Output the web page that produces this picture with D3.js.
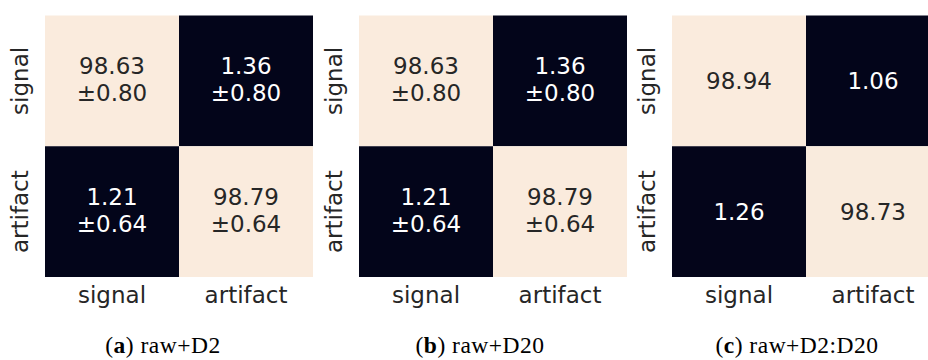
<!DOCTYPE html>
<html>
<head>
<meta charset="utf-8">
<script src="https://cdn.jsdelivr.net/npm/d3@7"></script>
<style>
  html, body { margin: 0; padding: 0; background: #ffffff; }
  svg { display: block; }
</style>
</head>
<body>
<svg id="chart" width="928" height="360"></svg>
<script>
// Class labels shared by all three confusion matrices (rows = true, columns = predicted)
const classes = ["signal", "artifact"];

// Mean classification rates (%) per panel
const meansD2 = [[98.63, 1.36], [1.21, 98.79]];
const meansD20 = [[98.63, 1.36], [1.21, 98.79]];
const meansD2D20 = [[98.94, 1.06], [1.26, 98.73]];

// Standard deviations (%) per panel; null when the panel reports means only
const stdD2 = [[0.80, 0.80], [0.64, 0.64]];
const stdD20 = [[0.80, 0.80], [0.64, 0.64]];
const stdD2D20 = null;

// Sub-figure captions
const captionLetters = ["a", "b", "c"];
const captionTexts = ["raw+D2", "raw+D20", "raw+D2:D20"];

const panels = [
  { means: meansD2, std: stdD2, x0: 45, capX: 163 },
  { means: meansD20, std: stdD20, x0: 359, capX: 480 },
  { means: meansD2D20, std: stdD2D20, x0: 672, capX: 797 }
];

const svg = d3.select("#chart");
const cellW = 134, gridTop = 15.5, gridBottom = 277;
const font = "'DejaVu Sans', sans-serif";
const fontSize = 23;

panels.forEach((p, pi) => {
  const allVals = p.means.flat();
  const color = d3.scaleLinear()
    .domain([d3.min(allVals), d3.max(allVals)])
    .range(["#03051a", "#faebdd"]);

  const x = d3.scaleBand().domain(classes).range([p.x0, p.x0 + cellW * classes.length]);
  const y = d3.scaleBand().domain(classes).range([gridTop, gridBottom]);

  const cells = [];
  classes.forEach((r, ri) => classes.forEach((c, ci) => {
    cells.push({
      row: r, col: c, v: p.means[ri][ci],
      s: p.std ? p.std[ri][ci] : null
    });
  }));

  const g = svg.append("g");

  g.selectAll("rect").data(cells).join("rect")
    .attr("x", d => x(d.col))
    .attr("y", d => y(d.row))
    .attr("width", x.bandwidth())
    .attr("height", y.bandwidth())
    .attr("fill", d => color(d.v));

  // Annotations: value, optionally with ± std on a second line
  const txt = g.selectAll("text.ann").data(cells).join("text")
    .attr("class", "ann")
    .attr("text-anchor", "middle")
    .attr("font-family", font)
    .attr("font-size", fontSize)
    .attr("fill", d => d.v < 50 ? "#ffffff" : "#262626");

  txt.each(function (d) {
    const cx = x(d.col) + x.bandwidth() / 2;
    const cy = y(d.row) + y.bandwidth() / 2;
    const t = d3.select(this);
    if (d.s !== null) {
      t.append("tspan").attr("x", cx).attr("y", cy - 7).text(d.v.toFixed(2));
      t.append("tspan").attr("x", cx).attr("y", cy + 20).text("±" + d.s.toFixed(2));
    } else {
      t.append("tspan").attr("x", cx).attr("y", cy + 8.5).text(d.v.toFixed(2));
    }
  });

  // Column labels (bottom axis) without tick marks
  const xAxis = d3.axisBottom(x).tickSize(0).tickPadding(0);
  const gx = g.append("g").attr("transform", `translate(0,${gridBottom})`).call(xAxis);
  gx.select(".domain").remove();
  gx.selectAll("text")
    .attr("font-family", font)
    .attr("font-size", fontSize)
    .attr("fill", "#262626")
    .attr("dy", null)
    .attr("y", 26);

  // Row labels (left axis), rotated vertically
  const yAxis = d3.axisLeft(y).tickSize(0).tickPadding(0);
  const gy = g.append("g").attr("transform", `translate(${p.x0},0)`).call(yAxis);
  gy.select(".domain").remove();
  gy.selectAll("text")
    .attr("font-family", font)
    .attr("font-size", fontSize)
    .attr("fill", "#262626")
    .attr("text-anchor", "middle")
    .attr("x", null).attr("dy", null)
    .attr("transform", "translate(-17,0) rotate(-90)");

  // Caption beneath the panel
  const cap = svg.append("text")
    .attr("x", p.capX)
    .attr("y", 353)
    .attr("text-anchor", "middle")
    .attr("font-family", "'Liberation Serif', serif")
    .attr("font-size", 23.5)
    .attr("letter-spacing", 0.5)
    .attr("fill", "#000000");
  cap.append("tspan").text("(");
  cap.append("tspan").attr("font-weight", "bold").text(captionLetters[pi]);
  cap.append("tspan").text(") " + captionTexts[pi]);
});
</script>
</body>
</html>
